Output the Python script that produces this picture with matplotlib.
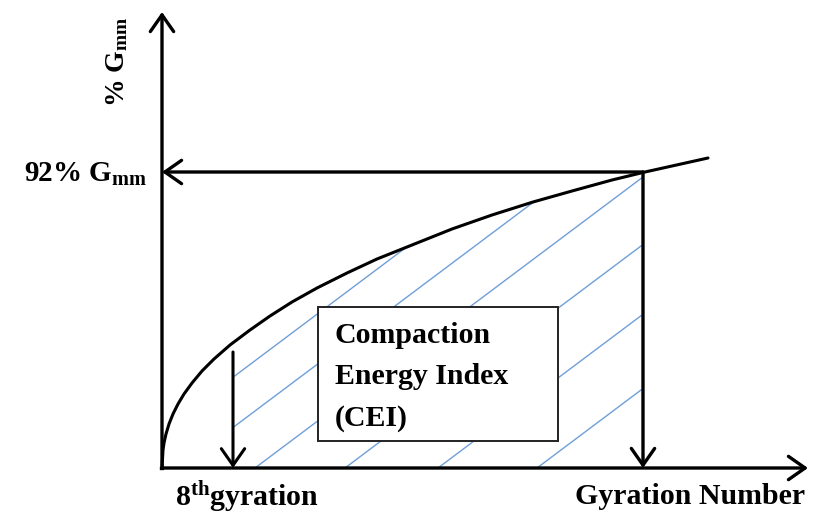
import matplotlib
matplotlib.use("Agg")
import matplotlib.pyplot as plt
import numpy as np
from matplotlib.patches import Polygon, Rectangle

plt.rcParams['font.family'] = ['Liberation Serif', 'DejaVu Serif']
plt.rcParams['mathtext.fontset'] = 'custom'
plt.rcParams['mathtext.rm'] = 'Liberation Serif:bold'
plt.rcParams['mathtext.bf'] = 'Liberation Serif:bold'
plt.rcParams['mathtext.it'] = 'Liberation Serif:bold'

# ---- schematic data (arbitrary units, origin at the axes corner) ----
curve_x = [0, 1, 2, 4, 7, 11, 16, 22, 30, 40, 52, 68, 88, 108, 130, 155, 185,
           215, 250, 290, 330, 371, 410, 450, 483, 546]
curve_y = [0, 18, 25, 34, 44, 54, 64, 74, 85, 97, 109, 123, 138, 152, 166, 180, 195,
           209, 223, 239, 253, 266, 277, 288, 296, 310]

x_axis_end = 646
y_axis_end = 456
n8_x = 71          # 8th gyration
n8_top = 116
ndes_x = 481       # gyration number at 92% Gmm
gmm92_y = 296

hatch_intercepts = [-50, 17, 93, 183, 276, 375]
hatch_slope = 0.75

box_x0, box_y0, box_x1, box_y1 = 156, 27, 396, 161

label_y = "% G$_{\\mathbf{mm}}$"
label_92 = "92% G$_{\\mathbf{mm}}$"
label_8 = "8$^{\\mathbf{th}}$gyration"
label_x = "Gyration Number"
box_text = "Compaction\nEnergy Index\n(CEI)"

# ---- figure ----
fig = plt.figure(figsize=(8.17, 5.22), dpi=100)
ax = fig.add_axes([0, 0, 1, 1])
ax.set_xlim(-162, 655)
ax.set_ylim(-54, 468)
ax.axis('off')

black = '#000000'
hatch_col = '#6f9fd8'

# hatch region clipped under curve between 8th gyration and design gyration
cx = np.array(curve_x, float)
cy = np.array(curve_y, float)
mask = (cx > n8_x) & (cx < ndes_x)
px = np.concatenate([[n8_x], cx[mask], [ndes_x]])
py = np.concatenate([[np.interp(n8_x, cx, cy)], cy[mask], [np.interp(ndes_x, cx, cy)]])
verts = np.vstack([np.column_stack([px, py]), [[ndes_x, 0], [n8_x, 0]]])
clip = Polygon(verts, closed=True, facecolor='none', edgecolor='none')
ax.add_patch(clip)
xs = np.array([-200, 700])
for b in hatch_intercepts:
    ln, = ax.plot(xs, hatch_slope * (xs - b), color=hatch_col, lw=1.0, zorder=1)
    ln.set_clip_path(clip)

# curve
ax.plot(cx, cy, color=black, lw=2.2, zorder=3, solid_capstyle='round',
        solid_joinstyle='round')

def arrow(x0, y0, x1, y1, lw=2.4):
    ax.annotate('', xy=(x1, y1), xytext=(x0, y0),
                arrowprops=dict(arrowstyle='->,head_length=0.6,head_width=0.42',
                                lw=lw, color=black, shrinkA=0, shrinkB=0,
                                mutation_scale=20), zorder=4)

# axes
arrow(0, 0, x_axis_end, 0)
arrow(0, 0, 0, y_axis_end)
ax.plot([-1.5, 0], [0, 0], color=black, lw=2.4)
# 92% Gmm arrow and design gyration arrow
arrow(ndes_x, gmm92_y, 0, gmm92_y)
arrow(ndes_x, gmm92_y, ndes_x, 0)
arrow(n8_x, n8_top, n8_x, 0, lw=2.2)

# box
ax.add_patch(Rectangle((box_x0, box_y0), box_x1 - box_x0, box_y1 - box_y0,
                       facecolor='white', edgecolor='#222222', lw=1.4, zorder=5))
ax.text(box_x0 + 17, 91, box_text, ha='left', va='center',
        fontsize=21.5, fontweight='bold', linespacing=1.7, zorder=6)

# labels
ax.text(-45, 406, label_y, rotation=90, ha='center', va='center',
        fontsize=20, fontweight='bold')
ax.text(-15, 294, label_92, ha='right', va='center', fontsize=21, fontweight='bold')
ax.text(13, -29, label_8, ha='left', va='center', fontsize=21.5, fontweight='bold')
ax.text(413, -29, label_x, ha='left', va='center', fontsize=21.5, fontweight='bold')

fig.savefig('out.png', dpi=100)
